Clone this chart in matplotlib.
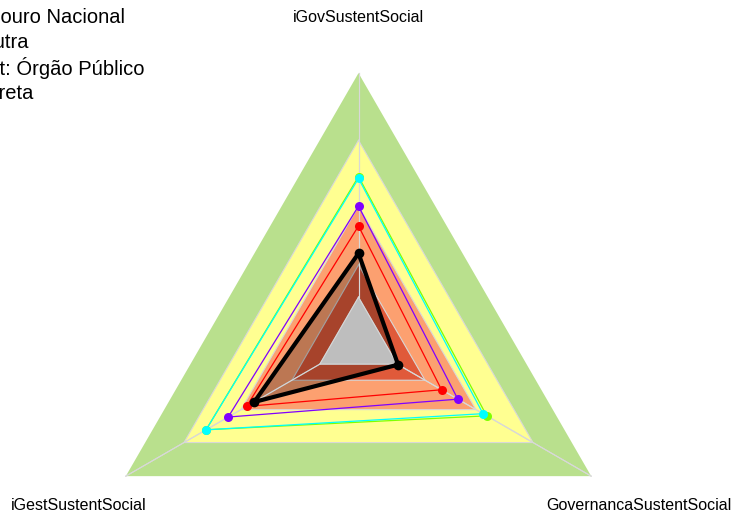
import matplotlib

matplotlib.use("Agg")
import matplotlib.pyplot as plt
import numpy as np

plt.rcParams["font.family"] = ["Liberation Sans", "DejaVu Sans"]

# eixos do radar (sentido anti-horário a partir do topo)
EIXOS = ["iGovSustentSocial", "iGestSustentSocial", "GovernancaSustentSocial"]

# faixas de fundo (raio relativo) e cores
FAIXAS = [1.0, 0.75, 0.505, 0.286, 0.166]
CORES_FAIXAS = ["#b9e08d", "#ffff91", "#fca070", "#e05a3a", "#bebebe"]

# séries
SERIE_VERMELHA = [0.431, 0.481, 0.357]
SERIE_VERDE = [0.615, 0.655, 0.551]
SERIE_CIANO = [0.608, 0.655, 0.535]
SERIE_ROXA = [0.505, 0.560, 0.427]
SERIE_PRETA = [0.329, 0.448, 0.170]

LEGENDA = ["Tesouro Nacional", "Outra", "Aut: Órgão Público", "Indireta"]

W, H = 733, 511
CX, CY, R = 358.5, 341.8, 268.7  # centro e raio em pixels (y a partir do topo)

ang = np.deg2rad([90, 210, 330])


def xy(vals):
    v = np.asarray(vals, dtype=float)
    x, y = v * np.cos(ang), v * np.sin(ang)
    return np.append(x, x[0]), np.append(y, y[0])


fig = plt.figure(figsize=(W / 100, H / 100), dpi=100)
ax = fig.add_axes([0, 0, 1, 1])
ax.set_xlim(-CX / R, (W - CX) / R)
ax.set_ylim(-(H - CY) / R, CY / R)
ax.axis("off")

GRADE = "#d8d8d8"
for lv, c in zip(FAIXAS, CORES_FAIXAS):
    x, y = xy([lv] * 3)
    ax.fill(x, y, color=c, zorder=1, lw=0)
    if lv < 1:
        ax.plot(x, y, color=GRADE, lw=0.8, zorder=1.5)
for a in ang:
    ax.plot([0, np.cos(a)], [0, np.sin(a)], color=GRADE, lw=0.8, zorder=1.5)

# preenchimento da série preta
x, y = xy(SERIE_PRETA)
ax.fill(x, y, color="black", alpha=0.25, lw=0, zorder=2)
# centro cinza por cima
x, y = xy([FAIXAS[-1]] * 3)
ax.fill(x, y, color=CORES_FAIXAS[-1], lw=0, zorder=2.5)
ax.plot(x, y, color=GRADE, lw=0.8, zorder=2.6)
for a in ang:
    ax.plot([FAIXAS[-1] * np.cos(a), np.cos(a)], [FAIXAS[-1] * np.sin(a), np.sin(a)],
            color=GRADE, lw=0.8, zorder=2.6)

for vals, c in [(SERIE_VERMELHA, "#ff0000"), (SERIE_VERDE, "#80ff00"),
                (SERIE_CIANO, "#00ffff"), (SERIE_ROXA, "#8000ff")]:
    x, y = xy(vals)
    ax.plot(x, y, color=c, lw=0.9, zorder=3)
    ax.plot(x[:-1], y[:-1], "o", color=c, ms=6.5, mew=0, zorder=3.5)

x, y = xy(SERIE_PRETA)
ax.plot(x, y, color="black", lw=3, zorder=4)
ax.plot(x[:-1], y[:-1], "o", color="black", ms=7, mew=0, zorder=4.5)

# rótulos dos eixos
for lab, px, py in zip(EIXOS, [358, 79, 639], [18, 505, 505]):
    ax.text((px - CX) / R, (CY - py) / R, lab, ha="center", va="center", fontsize=11.5)

# legenda (cortada na margem esquerda)
for lab, px, py in zip(LEGENDA, [125, 28, 144, 33], [18, 43, 68, 94]):
    ax.text((px - CX) / R, (CY - py) / R, lab, ha="right", va="center", fontsize=14.5)

fig.savefig("out.png", dpi=100)
